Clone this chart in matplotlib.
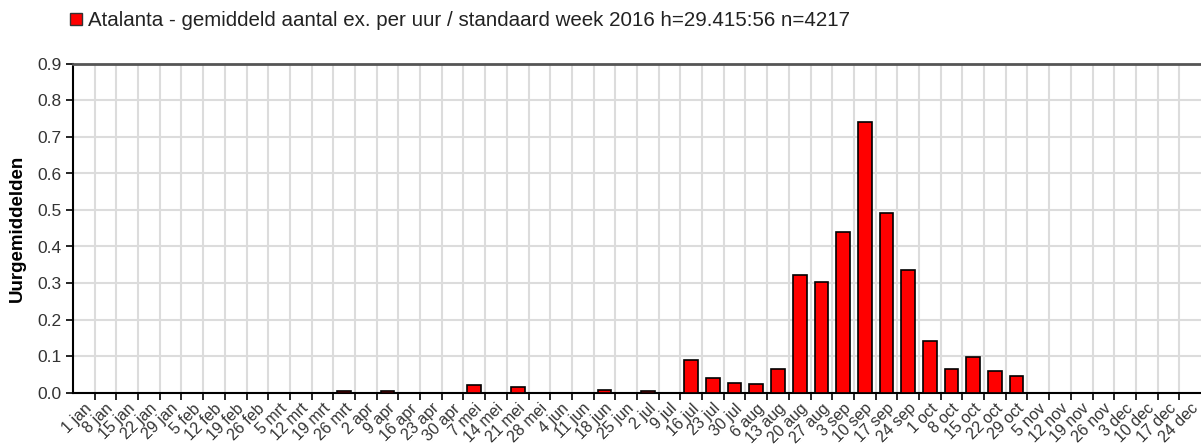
import numpy as np
import matplotlib
matplotlib.use('Agg')
import matplotlib.pyplot as plt
import matplotlib.patches as patches

plt.rcParams['font.family'] = ['Liberation Sans', 'DejaVu Sans']

weeks = ["1 jan", "8 jan", "15 jan", "22 jan", "29 jan", "5 feb", "12 feb", "19 feb", "26 feb",
         "5 mrt", "12 mrt", "19 mrt", "26 mrt", "2 apr", "9 apr", "16 apr", "23 apr", "30 apr",
         "7 mei", "14 mei", "21 mei", "28 mei", "4 jun", "11 jun", "18 jun", "25 jun",
         "2 jul", "9 jul", "16 jul", "23 jul", "30 jul", "6 aug", "13 aug", "20 aug", "27 aug",
         "3 sep", "10 sep", "17 sep", "24 sep", "1 oct", "8 oct", "15 oct", "22 oct", "29 oct",
         "5 nov", "12 nov", "19 nov", "26 nov", "3 dec", "10 dec", "17 dec", "24 dec"]

values = [0, 0, 0, 0, 0, 0, 0, 0, 0,
          0, 0, 0, 0.003, 0, 0.003, 0, 0, 0,
          0.02, 0, 0.014, 0, 0, 0, 0.008, 0,
          0.004, 0, 0.09, 0.041, 0.026, 0.022, 0.064, 0.322, 0.303,
          0.44, 0.741, 0.491, 0.335, 0.142, 0.064, 0.096, 0.058, 0.045,
          0, 0, 0, 0, 0, 0, 0, 0]

legend_label = "Atalanta - gemiddeld aantal ex. per uur / standaard week 2016 h=29.415:56 n=4217"
y_label = "Uurgemiddelden"

W, H = 1201, 444
fig = plt.figure(figsize=(W / 100, H / 100), dpi=100)
ax = fig.add_axes([73 / W, (H - 392.5) / H, (W - 73) / W, (392.5 - 64) / H])

x = np.arange(len(weeks))
ax.bar(x, values, width=0.63, color='#ff0000', edgecolor='black', linewidth=1.2, zorder=3)

ax.set_xlim(-0.5, len(weeks) - 0.5)
ax.set_ylim(0, 0.9)
ax.set_yticks(np.arange(0, 0.91, 0.1))
ax.set_yticklabels([f"{v:.1f}" for v in np.arange(0, 0.91, 0.1)], fontsize=12.5, color='#333333')

# category boundaries -> grid + tick marks, labels at centres
ax.set_xticks(x)
ax.set_xticklabels(weeks, rotation=45, ha='right', rotation_mode='anchor', fontsize=11.5, color='#333333')
ax.set_xticks(np.arange(0.5, len(weeks) - 1, 1), minor=True)
ax.tick_params(axis='x', which='major', length=0, pad=6)
ax.tick_params(axis='x', which='minor', length=5, width=1.2, color='black')
ax.tick_params(axis='y', length=5, width=1.2, color='black', pad=3)

ax.grid(True, which='minor', axis='x', color='#dcdcdc', linewidth=1.5, zorder=0)
ax.grid(True, which='major', axis='y', color='#dcdcdc', linewidth=1.5, zorder=0)
ax.set_axisbelow(True)

for s in ['left', 'bottom']:
    ax.spines[s].set_linewidth(1.5)
    ax.spines[s].set_color('black')
ax.spines['top'].set_linewidth(2)
ax.spines['top'].set_color('#555555')
ax.spines['right'].set_visible(False)

ax.set_ylabel(y_label, fontsize=13.5, fontweight='bold')
ax.yaxis.set_label_coords(-47 / (W - 73), 0.5)

# legend box at top
fig.patches.append(patches.Rectangle((70 / W, (H - 25) / H), 12 / W, 12 / H,
                                     transform=fig.transFigure, facecolor='#ff0000',
                                     edgecolor='#333333', linewidth=1))
fig.text(88 / W, (H - 20) / H, legend_label, fontsize=14.8, va='center', ha='left', color='#222222')

fig.savefig('out.png', dpi=100)
